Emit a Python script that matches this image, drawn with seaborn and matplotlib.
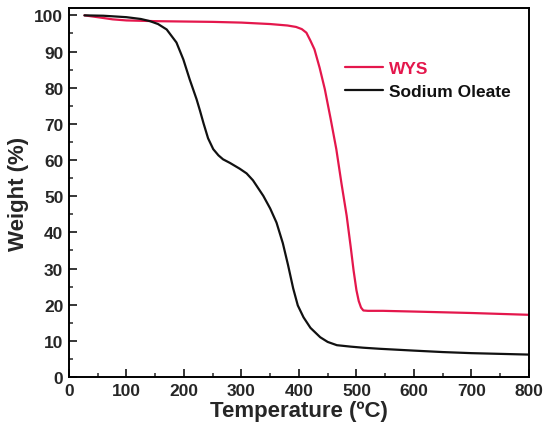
import pandas as pd
import matplotlib.pyplot as plt
import seaborn as sns
from matplotlib.ticker import MultipleLocator

# TGA curves
wys_temp = [27, 50, 76, 100, 150, 200, 250, 300, 350, 380, 395, 405, 413, 420, 427, 436, 445, 455, 465, 474, 483, 490, 495, 500, 504, 508, 512, 520, 546, 600, 700, 800]
wys_weight = [100, 99.5, 98.9, 98.6, 98.4, 98.3, 98.2, 98.0, 97.6, 97.2, 96.8, 96.2, 95.2, 93.0, 90.6, 85.5, 79.6, 71.5, 63.0, 53.5, 44.6, 36.0, 29.5, 24.0, 21.0, 19.2, 18.4, 18.3, 18.3, 18.1, 17.7, 17.2]

na_temp = [27, 60, 100, 125, 141, 155, 170, 187, 199, 210, 222, 228, 234, 242, 251, 260, 268, 280, 297, 309, 320, 338, 350, 361, 372, 381, 390, 398, 408, 420, 437, 450, 466, 490, 512, 541, 600, 650, 700, 750, 800]
na_weight = [100, 99.9, 99.5, 99.0, 98.4, 97.6, 96.1, 92.5, 87.8, 82.3, 76.8, 73.6, 70.2, 66.0, 63.0, 61.3, 60.2, 59.2, 57.6, 56.3, 54.4, 50.1, 46.6, 42.7, 37.0, 31.0, 24.5, 19.8, 16.5, 13.6, 11.0, 9.7, 8.8, 8.4, 8.1, 7.8, 7.3, 6.9, 6.6, 6.4, 6.2]

labels = ['WYS', 'Sodium Oleate']
colors = ['#e4174c', '#111111']

sns.set_style('ticks')
plt.rcParams['font.family'] = ['Liberation Sans', 'DejaVu Sans']
plt.rcParams['font.weight'] = 'bold'

fig = plt.figure(figsize=(5.47, 4.35), dpi=100)
ax = fig.add_axes([0.126, 0.131, 0.841, 0.848])

sns.lineplot(x=wys_temp, y=wys_weight, color=colors[0], lw=1.6, label=labels[0], ax=ax)
sns.lineplot(x=na_temp, y=na_weight, color=colors[1], lw=1.6, label=labels[1], ax=ax)

ax.set_xlim(0, 800)
ax.set_ylim(0, 102)
ax.xaxis.set_major_locator(MultipleLocator(100))
ax.xaxis.set_minor_locator(MultipleLocator(50))
ax.yaxis.set_major_locator(MultipleLocator(10))
ax.yaxis.set_minor_locator(MultipleLocator(5))
ax.tick_params(which='major', direction='in', length=6, width=1.3, labelsize=12.5, pad=4)
ax.tick_params(which='minor', direction='in', length=3, width=1.1)
for s in ax.spines.values():
    s.set_linewidth(1.4)
    s.set_color('black')

ax.set_xlabel('Temperature (\u00baC)', fontsize=16, fontweight='bold', labelpad=2)
ax.set_ylabel('Weight (%)', fontsize=16, fontweight='bold', labelpad=4)

leg = ax.legend(loc='upper left', bbox_to_anchor=(0.566, 0.9), frameon=False,
                fontsize=12.5, handlelength=2.2, handletextpad=0.35, labelspacing=0.45)
for txt, c in zip(leg.get_texts(), colors):
    txt.set_color(c)
    txt.set_fontweight('bold')

plt.savefig('out.png')
